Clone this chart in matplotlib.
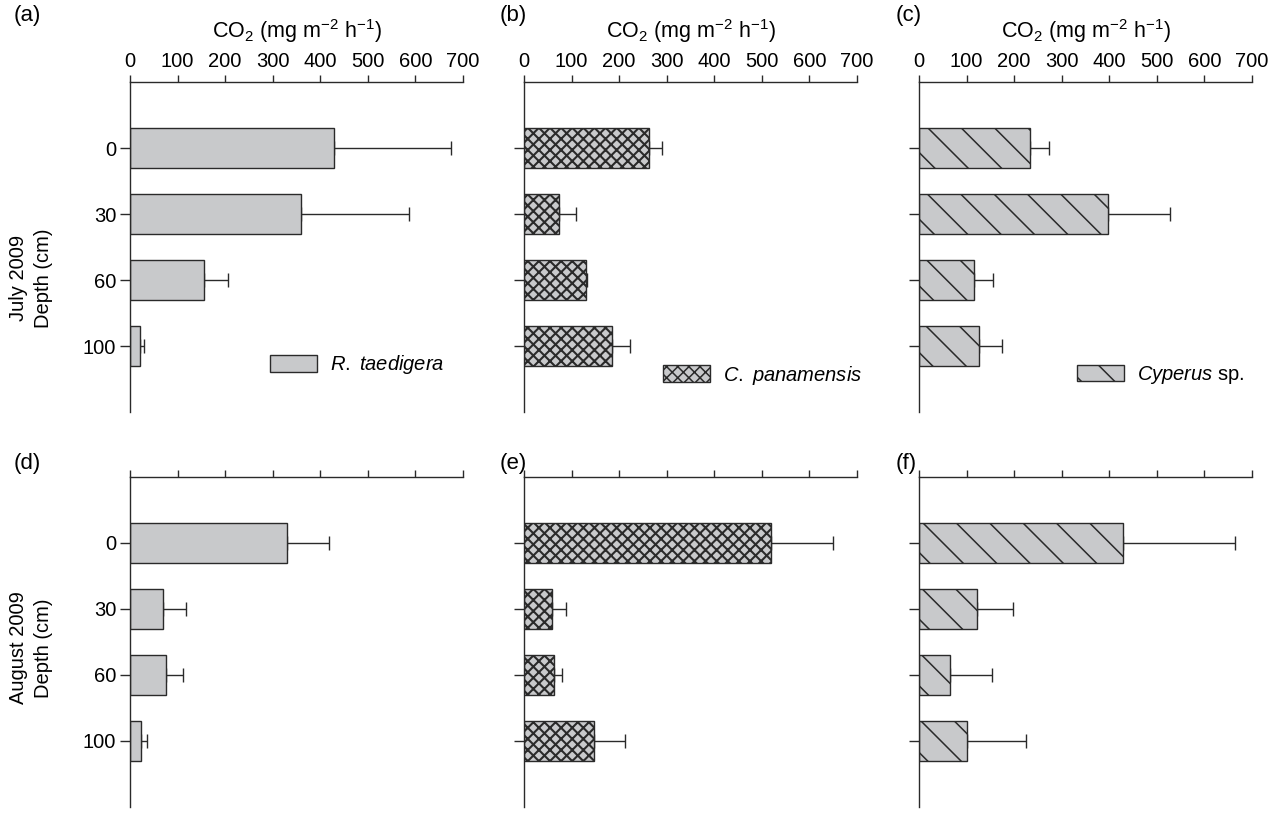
import numpy as np
import matplotlib
matplotlib.use('Agg')
import matplotlib.pyplot as plt
from matplotlib.patches import Patch

plt.rcParams['font.family'] = ['Liberation Sans', 'DejaVu Sans']
plt.rcParams['mathtext.fontset'] = 'custom'
plt.rcParams['mathtext.rm'] = 'Liberation Sans'
plt.rcParams['mathtext.it'] = 'Liberation Sans:italic'
plt.rcParams['hatch.linewidth'] = 1.1
plt.rcParams['hatch.color'] = '#2a2a2a'

# 数据 (mg CO2 m-2 h-1), 按深度 0/30/60/100 cm
depths = ['0', '30', '60', '100']

july_rt = [429, 359, 155, 21]
july_rt_err = [246, 228, 51, 9]
july_cp = [263, 74, 130, 185]
july_cp_err = [28, 35, 3, 38]
july_cy = [233, 397, 115, 126]
july_cy_err = [40, 130, 41, 48]

aug_rt = [331, 69, 75, 24]
aug_rt_err = [87, 48, 37, 11]
aug_cp = [520, 58, 63, 147]
aug_cp_err = [129, 30, 16, 66]
aug_cy = [428, 122, 65, 100]
aug_cy_err = [236, 76, 88, 124]

species = ['$\\it{R.\\ taedigera}$', '$\\it{C.\\ panamensis}$', '$\\it{Cyperus}$ sp.']
hatches = ['', 'xxx', '\\']
hatch_lw = [1.1, 1.5, 1.1]
fill = '#c8c9cb'
edge = '#2a2a2a'
fs = 14.5

W, H = 1278, 817
fig = plt.figure(figsize=(W / 100, H / 100), dpi=100)

lefts = [130, 524, 919]
tops = [82, 477]
aw, ah = 333, 330

data = [[(july_rt, july_rt_err), (july_cp, july_cp_err), (july_cy, july_cy_err)],
        [(aug_rt, aug_rt_err), (aug_cp, aug_cp_err), (aug_cy, aug_cy_err)]]
panel_labels = [['(a)', '(b)', '(c)'], ['(d)', '(e)', '(f)']]
label_x = [14, 500, 896]
label_y = [16, 463]
leg_pos = [(270, 365), (663, 375), (1077, 375)]


def set_hlw(p, lw):
    # 3.10 才有单独的 hatch 线宽
    if hasattr(p, 'set_hatch_linewidth'):
        p.set_hatch_linewidth(lw)


y = np.arange(len(depths))
for r in range(2):
    for c in range(3):
        ax = fig.add_axes([lefts[c] / W, 1 - (tops[r] + ah) / H, aw / W, ah / H])
        vals, errs = data[r][c]
        bars = ax.barh(y, vals, height=0.6, color=fill, edgecolor=edge, linewidth=1.0,
                       hatch=hatches[c], zorder=2)
        for b in bars:
            set_hlw(b, hatch_lw[c])
        ax.errorbar(vals, y, xerr=[np.zeros(len(errs)), errs], fmt='none',
                    ecolor=edge, elinewidth=1.0, capsize=5, capthick=1.0, zorder=1)
        ax.set_xlim(0, 700)
        ax.set_ylim(4, -1)
        ax.set_xticks(range(0, 701, 100))
        ax.set_yticks(y)
        ax.spines['right'].set_visible(False)
        ax.spines['bottom'].set_visible(False)
        for s in ['top', 'left']:
            ax.spines[s].set_linewidth(1.0)
            ax.spines[s].set_color(edge)
        ax.xaxis.tick_top()
        ax.tick_params(axis='x', direction='out', length=5, width=1.0, color=edge,
                       labelsize=fs, pad=3, labeltop=(r == 0))
        ax.tick_params(axis='y', direction='out', length=7, width=1.0, color=edge,
                       labelsize=fs, pad=3, labelleft=(c == 0))
        if c == 0:
            ax.set_yticklabels(depths)
        if r == 0:
            ax.set_title('CO$_2$ (mg m$^{-2}$ h$^{-1}$)', fontsize=15.5, pad=10)
        fig.text(label_x[c] / W, 1 - label_y[r] / H, panel_labels[r][c],
                 fontsize=16, ha='left', va='center')
        if r == 0:
            h = Patch(facecolor=fill, edgecolor=edge, hatch=hatches[c], linewidth=1.0)
            set_hlw(h, hatch_lw[c])
            lx, ly = leg_pos[c]
            ax.legend([h], [species[c]], loc='center left',
                      bbox_to_anchor=(lx / W, 1 - ly / H), bbox_transform=fig.transFigure,
                      frameon=False, fontsize=fs, handlelength=2.35, handleheight=0.85,
                      handletextpad=0.65, borderpad=0, borderaxespad=0)

fig.text(31 / W, 1 - 278 / H, 'July 2009\nDepth (cm)', rotation=90,
         ha='center', va='center', fontsize=fs, linespacing=1.4)
fig.text(31 / W, 1 - 648 / H, 'August 2009\nDepth (cm)', rotation=90,
         ha='center', va='center', fontsize=fs, linespacing=1.4)

fig.savefig('out.png', dpi=100)
